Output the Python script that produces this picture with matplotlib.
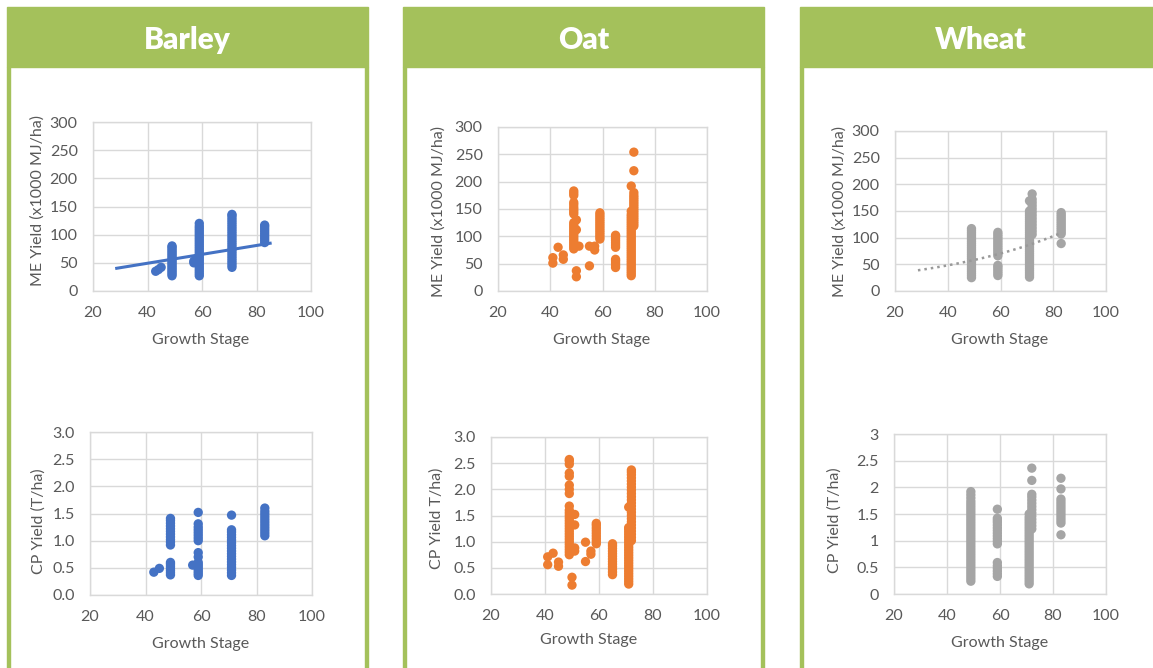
import numpy as np
import matplotlib.pyplot as plt
from matplotlib.patches import Rectangle

# Growth stage -> yields measured at that stage
barley_me = [
    (43, [35]), (44, [38]), (45, [42]),
    (49, [27, 30, 33, 36, 39, 42, 45, 48, 51, 54, 57, 60, 63, 66, 69, 72, 75, 78, 80]),
    (57, [50, 53]),
    (59, [27, 31, 35, 39, 43, 47, 51, 55, 59, 63, 67, 71, 75, 79, 83, 87, 91, 95,
          99, 103, 107, 111, 115, 120]),
    (71, [42, 46, 50, 54, 58, 62, 66, 70, 74, 78, 82, 86, 90, 94, 98, 102, 106,
          110, 114, 118, 122, 126, 130, 134, 136]),
    (83, [86, 90, 94, 98, 102, 106, 110, 114, 117]),
]
barley_cp = [
    (43, [0.42]), (45, [0.49]),
    (49, [0.37, 0.41, 0.45, 0.49, 0.53, 0.57, 0.60,
          0.92, 0.97, 1.02, 1.07, 1.12, 1.17, 1.22, 1.27, 1.32, 1.37, 1.41]),
    (57, [0.55]),
    (59, [0.36, 0.40, 0.44, 0.48, 0.52, 0.56, 0.60, 0.70, 0.78,
          1.00, 1.05, 1.10, 1.15, 1.20, 1.25, 1.31, 1.52]),
    (71, [0.36, 0.41, 0.46, 0.51, 0.56, 0.61, 0.66, 0.71, 0.76, 0.81, 0.86, 0.91,
          0.96, 1.01, 1.06, 1.11, 1.16, 1.20, 1.47]),
    (83, [1.09, 1.14, 1.19, 1.24, 1.29, 1.34, 1.39, 1.44, 1.49, 1.54, 1.60]),
]
oat_me = [
    (41, [51, 61]), (43, [80]), (45, [58, 66]),
    (49, [77, 81, 85, 89, 93, 97, 101, 105, 109, 113, 117, 121, 125,
          141, 145, 149, 153, 158, 162, 175, 179, 183]),
    (50, [26, 37, 112, 130]), (51, [82]),
    (55, [46, 82]), (57, [75, 82]),
    (59, [95, 99, 103, 107, 111, 115, 119, 123, 127, 131, 135, 139, 143]),
    (65, [43, 47, 51, 55, 58, 80, 84, 88, 92, 96, 100, 102]),
    (71, [28, 32, 36, 40, 44, 48, 52, 56, 60, 64, 68, 72, 76, 80, 84, 88, 92, 96,
          100, 104, 108, 112, 116, 120, 124, 128, 132, 136, 140, 146, 192]),
    (72, [119, 123, 127, 131, 135, 139, 143, 147, 151, 155, 159, 163, 167, 171,
          175, 180, 220, 254]),
]
oat_cp = [
    (41, [0.56, 0.71]), (43, [0.78]), (45, [0.53, 0.61]),
    (49, [0.75, 0.80, 0.85, 0.90, 0.95, 1.00, 1.05, 1.10, 1.15, 1.20, 1.25, 1.30,
          1.35, 1.40, 1.45, 1.50, 1.55, 1.60, 1.68, 1.92, 2.00, 2.08, 2.25, 2.31,
          2.48, 2.54, 2.57]),
    (50, [0.17, 0.32]), (51, [0.82, 0.88, 1.32, 1.52]),
    (55, [0.62, 0.99]), (57, [0.76, 0.82]),
    (59, [0.96, 1.01, 1.06, 1.11, 1.16, 1.21, 1.26, 1.31, 1.35]),
    (65, [0.37, 0.42, 0.47, 0.52, 0.57, 0.62, 0.67, 0.72, 0.77, 0.82, 0.87, 0.92, 0.96]),
    (71, [0.19, 0.24, 0.29, 0.34, 0.39, 0.44, 0.49, 0.54, 0.59, 0.64, 0.69, 0.74,
          0.79, 0.84, 0.89, 0.94, 0.99, 1.04, 1.09, 1.14, 1.19, 1.24, 1.27, 1.66]),
    (72, [1.02, 1.08, 1.14, 1.20, 1.26, 1.32, 1.38, 1.44, 1.50, 1.56, 1.62, 1.68,
          1.74, 1.80, 1.86, 1.92, 1.98, 2.04, 2.10, 2.16, 2.22, 2.28, 2.33, 2.37]),
]
wheat_me = [
    (49, [25, 29, 33, 37, 41, 45, 49, 53, 57, 61, 65, 69, 73, 77, 81, 85, 89, 93,
          97, 101, 105, 109, 113, 117]),
    (59, [29, 33, 37, 41, 45, 48, 66, 70, 74, 78, 82, 86, 90, 94, 98, 102, 106, 110]),
    (71, [26, 30, 34, 38, 42, 46, 50, 54, 58, 62, 66, 70, 74, 78, 82, 86, 90, 94,
          98, 102, 106, 110, 114, 118, 122, 126, 130, 134, 138, 142, 146, 150, 169]),
    (72, [106, 112, 118, 124, 130, 136, 142, 148, 154, 160, 166, 172, 182]),
    (83, [89, 107, 111, 115, 119, 123, 127, 131, 135, 139, 143, 147]),
]
wheat_cp = [
    (49, [0.24, 0.29, 0.34, 0.39, 0.44, 0.49, 0.54, 0.59, 0.64, 0.69, 0.74, 0.79,
          0.84, 0.89, 0.94, 0.99, 1.04, 1.09, 1.14, 1.19, 1.24, 1.29, 1.34, 1.39,
          1.44, 1.49, 1.54, 1.59, 1.64, 1.69, 1.74, 1.80, 1.86, 1.92]),
    (59, [0.33, 0.38, 0.43, 0.48, 0.53, 0.59, 0.94, 0.99, 1.04, 1.09, 1.14, 1.19,
          1.24, 1.29, 1.34, 1.38, 1.42, 1.59]),
    (71, [0.19, 0.24, 0.29, 0.34, 0.39, 0.44, 0.49, 0.54, 0.59, 0.64, 0.69, 0.74,
          0.79, 0.84, 0.89, 0.94, 0.99, 1.04, 1.09, 1.14, 1.19, 1.24, 1.29, 1.34,
          1.39, 1.44, 1.50]),
    (72, [1.22, 1.28, 1.34, 1.40, 1.46, 1.52, 1.58, 1.64, 1.70, 1.76, 1.82, 1.87,
          2.13, 2.36]),
    (83, [1.11, 1.33, 1.38, 1.43, 1.48, 1.53, 1.58, 1.63, 1.68, 1.73, 1.78, 1.97, 2.17]),
]

# Trend lines: linear for barley, exponential for wheat (y = a * exp(b * x))
barley_trend_range = [28.7, 85.0]
barley_trend_slope, barley_trend_intercept = 0.789, 17.7
wheat_trend_range = [28.7, 83.0]
wheat_trend_a, wheat_trend_b = 22.5, 0.019

crops = ["Barley", "Oat", "Wheat"]
colors = ["#4472C4", "#ED7D31", "#A5A5A5"]
green = "#A4C15B"
text_grey = "#595959"
grid_grey = "#D9D9D9"

W, H = 1153, 668
plt.rcParams["font.family"] = ["Lato", "DejaVu Sans"]

fig = plt.figure(figsize=(W / 100, H / 100), dpi=100)


def fx(px):
    return px / W


def fy(py):
    return 1 - py / H


def axes_at(x0, y0, x1, y1):
    return fig.add_axes([fx(x0), fy(y1), fx(x1 - x0), (y1 - y0) / H])


def flatten(groups):
    xs = np.concatenate([np.full(len(ys), x, dtype=float) for x, ys in groups])
    ys = np.concatenate([np.asarray(ys, dtype=float) for _, ys in groups])
    return xs, ys


# Panel frames with green title bars
panel_left = [7, 403, 800]
panel_w = 361
for name, x0 in zip(crops, panel_left):
    fig.patches.append(Rectangle((fx(x0), fy(67)), fx(panel_w), 60 / H,
                                 transform=fig.transFigure, color=green, zorder=0))
    for bx in (x0, x0 + panel_w - 3):
        fig.patches.append(Rectangle((fx(bx), 0), fx(3), fy(67),
                                     transform=fig.transFigure, color=green, zorder=0))
    fig.text(fx(x0 + panel_w / 2), fy(40), name, color="white", fontsize=21.5,
             fontweight="heavy", ha="center", va="center")

# Axes boxes in pixels (left, top, right, bottom)
me_boxes = [(93, 122, 311, 291), (498, 127, 707, 291), (895, 131, 1106, 291)]
cp_boxes = [(90, 432, 312, 595), (491, 437, 707, 594), (894, 434, 1106, 594)]

# Label centres in pixels
me_ylabel_pos = [(38, 201), (439, 212), (840, 212)]
cp_ylabel_pos = [(39, 521), (437, 518), (835, 520)]
me_xlabel_pos = [(201, 340), (602, 340), (1000, 340)]
cp_xlabel_pos = [(201, 644), (589, 640), (1000, 643)]
cp_ylabels = ["CP Yield (T/ha)", "CP Yield T/ha)", "CP Yield (T/ha)"]

me_data = [barley_me, oat_me, wheat_me]
cp_data = [barley_cp, oat_cp, wheat_cp]


def style(ax, ymax, ystep, yfmt):
    ax.set_xlim(20, 100)
    ax.set_ylim(0, ymax)
    ax.set_xticks(np.arange(20, 101, 20))
    yt = np.arange(0, ymax + ystep / 2, ystep)
    ax.set_yticks(yt)
    ax.set_yticklabels([yfmt(v) for v in yt])
    ax.grid(True, color=grid_grey, lw=1.0, zorder=0)
    ax.set_axisbelow(True)
    for s in ax.spines.values():
        s.set_color(grid_grey)
        s.set_linewidth(1.0)
    ax.tick_params(length=0, labelsize=11.5, colors=text_grey, pad=11)


for i in range(3):
    # ME yield
    ax = axes_at(*me_boxes[i])
    xs, ys = flatten(me_data[i])
    ax.scatter(xs, ys, s=45, color=colors[i], edgecolors="none", zorder=3)
    style(ax, 300, 50, lambda v: f"{v:.0f}")
    if i == 0:
        tx = np.linspace(*barley_trend_range, 50)
        ax.plot(tx, barley_trend_slope * tx + barley_trend_intercept,
                color=colors[0], lw=2.2, zorder=4)
    if i == 2:
        tx = np.linspace(*wheat_trend_range, 80)
        ax.plot(tx, wheat_trend_a * np.exp(wheat_trend_b * tx),
                color="#999999", lw=1.8, ls=(0, (1, 1.6)), zorder=4)
    fig.text(fx(me_ylabel_pos[i][0]), fy(me_ylabel_pos[i][1]), "ME Yield (x1000 MJ/ha)",
             rotation=90, ha="center", va="center", fontsize=11.5, color=text_grey)
    fig.text(fx(me_xlabel_pos[i][0]), fy(me_xlabel_pos[i][1]), "Growth Stage",
             ha="center", va="center", fontsize=11.5, color=text_grey)

    # CP yield
    ax = axes_at(*cp_boxes[i])
    xs, ys = flatten(cp_data[i])
    ax.scatter(xs, ys, s=45, color=colors[i], edgecolors="none", zorder=3)
    if i == 2:
        style(ax, 3, 0.5, lambda v: f"{v:g}")
    else:
        style(ax, 3, 0.5, lambda v: f"{v:.1f}")
    fig.text(fx(cp_ylabel_pos[i][0]), fy(cp_ylabel_pos[i][1]), cp_ylabels[i],
             rotation=90, ha="center", va="center", fontsize=11.5, color=text_grey)
    fig.text(fx(cp_xlabel_pos[i][0]), fy(cp_xlabel_pos[i][1]), "Growth Stage",
             ha="center", va="center", fontsize=11.5, color=text_grey)

fig.savefig("out.png", dpi=100)
